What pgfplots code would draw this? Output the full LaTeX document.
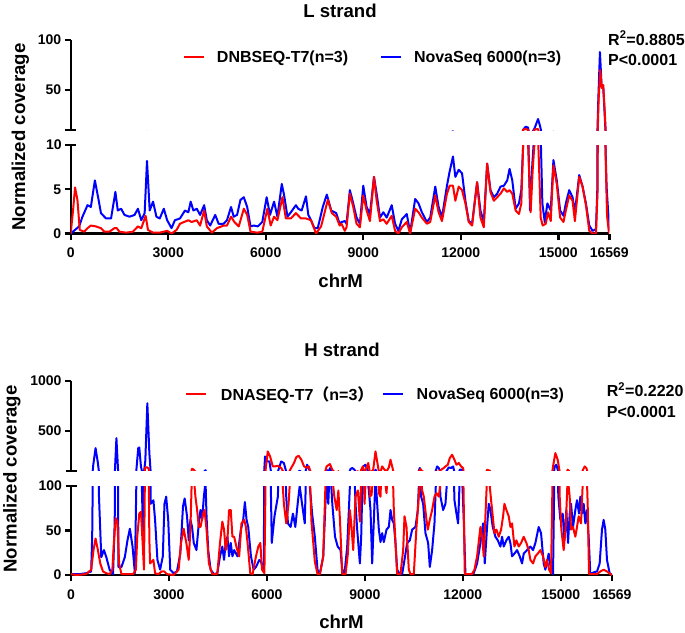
\documentclass[border=0pt]{standalone}
\usepackage{pgfplots}
\pgfplotsset{compat=1.18}
\usepackage{pgfplotstable}
\usepackage{fontspec}
\setmainfont{Liberation Sans}
\newfontfamily\cjk{Noto Sans CJK SC}

\pgfplotstableread{
x y
0 0
259 0.8
362 1.9
517 3.2
620 3.0
744 6.0
858 3.8
931 2.3
1086 1.7
1241 1.7
1375 4.7
1448 2.6
1551 2.8
1654 2.1
1810 1.9
1965 2.1
2068 2.8
2171 1.5
2275 2.3
2347 8.2
2430 2.6
2533 3.6
2637 1.9
2740 1.7
2864 2.8
2968 1.5
3102 0.6
3205 1.5
3361 1.7
3516 2.6
3619 2.4
3691 3.6
3774 2.6
3878 2.8
3981 2.1
4105 3.2
4188 1.5
4291 0.9
4446 2.1
4550 1.1
4705 1.1
4808 1.5
4932 3.0
5015 1.9
5118 2.1
5222 3.8
5325 4.1
5429 3.0
5532 0.8
5635 0.9
5759 0.8
5894 1.3
6028 4.1
6132 2.1
6256 3.6
6359 1.9
6494 5.6
6566 4.3
6669 1.9
6773 2.4
6928 3.2
7000 2.8
7104 2.6
7238 4.2
7310 2.1
7393 1.5
7497 0.6
7600 0.6
7755 3.0
7879 4.4
8014 2.6
8169 2.3
8272 1.1
8330 1.3
8433 1.4
8485 1.1
8588 4.9
8691 3.4
8794 1.8
8897 1.1
9000 5.4
9103 3.0
9206 2.2
9330 6.4
9412 4.5
9515 1.8
9618 2.4
9721 1.8
9876 3.2
9979 1.1
10082 0.3
10185 1.6
10339 2.2
10442 0.1
10597 3.9
10700 3.4
10803 2.4
10957 1.3
11060 1.8
11215 5.3
11318 3.0
11421 1.8
11575 5.4
11657 7.0
11760 8.7
11833 6.4
11936 7.2
12039 6.8
12142 3.7
12245 1.4
12348 1.1
12502 5.8
12605 2.6
12708 1.3
12811 7.9
12914 4.9
13017 4.1
13120 4.5
13223 5.3
13326 5.4
13429 6.0
13501 7.3
13584 6.0
13687 2.8
13790 3.4
13862 4.9
13923 10.5
13996 13.3
14068 12.5
14130 2.6
14202 7.9
14274 12
14377 21
14438 14
14510 3.4
14583 1.3
14665 3.4
14768 2.6
14850 8.3
14953 6.0
15056 2.6
15159 2.0
15232 3.4
15335 4.9
15438 4.1
15510 2.4
15644 6.6
15747 5.3
15850 3.4
15953 0.9
16056 0.3
16159 0.5
16200 5
16230 40
16281 88
16330 55
16383 52
16420 30
16450 10
16487 5.2
16569 0.3
}\Lblue

\pgfplotstableread{
x y
0 0
72 2.6
134 5.2
207 3.8
279 0.4
414 0.2
517 0.6
620 0.9
776 0.8
931 0.6
1034 0.2
1189 0.2
1344 0.6
1417 0.6
1499 0.2
1706 0.1
1913 0.2
2068 0.8
2171 0.6
2306 2.0
2378 0.4
2533 0.1
2740 0.1
2968 0.3
3102 0
3257 0.4
3361 1.1
3485 1.3
3619 1.5
3722 1.3
3878 1.5
3981 0.9
4105 2.6
4188 0.8
4343 0.1
4498 0.6
4705 0.9
4808 0.9
4932 1.9
5036 1.3
5170 0.8
5325 2.8
5429 2.1
5532 0.2
5739 0.1
5894 0.2
6049 2.8
6152 0.9
6256 1.9
6359 1.5
6514 4.1
6618 1.7
6773 1.7
6928 2.3
7083 1.7
7238 1.7
7393 1.5
7548 0
7703 0.8
7910 3.8
8034 2.3
8169 1.9
8272 0.9
8330 1.1
8433 0.3
8485 0.7
8588 4.5
8691 3.0
8794 1.1
8897 0.7
9000 4.3
9103 2.6
9206 1.4
9330 6.4
9412 3.7
9515 1.4
9618 1.6
9721 1.1
9876 2.0
9979 0.3
10082 0
10185 0.7
10339 1.3
10442 0
10597 2.8
10700 2.4
10803 1.8
10957 1.1
11060 1.3
11215 4.3
11318 2.4
11421 1.4
11575 4.5
11657 5.4
11760 5.4
11833 3.7
11936 5.3
12039 4.9
12142 3.4
12245 1.3
12348 0.9
12502 5.8
12605 1.8
12708 0.7
12811 7.9
12914 4.7
13017 3.7
13120 4.1
13223 4.5
13326 5.1
13429 4.7
13501 4.9
13584 4.5
13687 2.6
13790 2.2
13862 3.4
13923 10.5
13996 11
14068 10.3
14150 2.4
14212 7.2
14274 10.5
14377 11
14459 1.8
14520 0.9
14613 1.1
14686 2.4
14768 1.4
14850 7.7
14953 5.6
15056 1.8
15159 1.3
15232 2.6
15335 4.3
15438 3.7
15510 1.4
15644 6.4
15747 5.3
15850 3.2
15953 0.3
16056 0
16159 0
16210 5
16240 40
16290 70
16340 52
16383 55
16425 30
16460 8
16500 2
16560 0
}\Lred

\pgfplotstableread{
x y
0 1
258 1
464 2
618 4
649 43
680 153
752 327
824 177
855 90
927 20
1009 28
1082 20
1185 5.6
1288 1
1339 60
1391 427
1442 100
1452 9
1545 9
1648 20
1730 39
1803 52
1885 32
1957 2
2000 100
2060 327
2091 333
2142 143
2215 30
2276 200
2338 777
2400 277
2441 80
2524 84
2575 62
2647 17
2730 6
2812 21
2863 80
2915 88
2977 62
3039 6
3142 2
3245 4
3348 24
3430 77
3481 86
3554 66
3605 39
3657 62
3708 54
3760 36
3842 28
3914 58
3966 73
4017 62
4069 88
4120 105
4151 66
4202 28
4275 6
4378 1
4481 2
4563 21
4635 32
4687 17
4738 36
4790 43
4841 21
4893 36
4944 21
4996 28
5099 21
5202 51
5274 62
5325 82
5377 62
5428 54
5511 21
5593 6
5665 9
5768 17
5820 15
5902 4
5943 243
5974 193
6077 193
6149 36
6232 66
6335 88
6386 143
6438 193
6520 177
6592 88
6644 58
6726 54
6798 69
6870 54
6953 84
7004 100
7076 80
7159 58
7231 160
7313 100
7385 69
7468 43
7550 6
7622 1
7725 21
7828 110
7880 80
7931 127
8003 80
8086 43
8168 32
8255 28
8306 6
8378 2
8459 32
8510 73
8561 117
8612 127
8684 110
8714 80
8765 51
8847 13
8888 43
8949 143
9020 160
9071 110
9122 95
9173 73
9224 13
9326 110
9377 80
9428 51
9479 37
9530 47
9581 37
9663 51
9734 54
9785 73
9836 62
9887 58
9938 36
9989 6
10071 1
10142 1
10214 17
10295 36
10377 39
10448 51
10550 54
10622 73
10683 127
10724 88
10785 80
10856 47
10938 36
10989 9
11060 28
11132 58
11213 143
11264 127
11315 88
11397 73
11468 80
11570 133
11642 127
11703 143
11744 84
11805 69
11856 58
11907 110
11978 110
12029 62
12080 1
12233 1
12335 2
12437 13
12539 36
12621 58
12672 13
12743 54
12794 80
12845 73
12917 54
12998 43
13070 39
13151 32
13202 43
13253 32
13335 39
13406 43
13457 36
13508 21
13580 24
13661 28
13743 21
13814 13
13865 24
13967 28
14069 32
14151 28
14222 36
14324 54
14396 47
14477 13
14528 6
14630 24
14702 6
14763 1
14814 143
14865 160
14926 88
14987 62
15059 69
15110 39
15171 73
15222 36
15273 69
15314 80
15375 54
15446 73
15497 84
15559 69
15599 88
15650 69
15701 80
15752 58
15803 73
15854 43
15905 1
16007 3
16109 4
16191 13
16262 51
16313 62
16364 51
16415 17
16497 2
16568 0
}\Hblue

\pgfplotstableread{
x y
0 1
155 0
464 1
618 6
690 28
752 41
824 28
896 13
979 4
1082 2
1185 1
1267 6
1318 39
1370 64
1421 60
1473 13
1545 1
1700 1
1906 1
1988 6
2029 43
2091 69
2142 71
2194 36
2235 6
2266 120
2276 133
2338 133
2379 120
2400 40
2421 13
2472 15
2524 17
2575 2
2678 1
2781 4
2853 4
2936 1
3142 0
3296 6
3368 36
3451 52
3533 36
3605 17
3657 51
3708 120
3760 110
3811 88
3863 73
3914 54
3966 54
4048 69
4089 73
4151 51
4223 13
4326 1
4481 1
4563 36
4635 60
4687 51
4738 28
4790 39
4841 73
4893 73
4944 43
4996 43
5078 30
5150 21
5222 58
5305 62
5356 54
5408 36
5490 2
5562 1
5665 21
5737 32
5799 36
5850 6
5923 2
5974 150
6026 293
6098 243
6180 143
6252 143
6335 150
6438 127
6520 80
6592 58
6664 80
6747 130
6829 177
6901 237
6973 250
7056 210
7138 143
7210 130
7282 143
7365 60
7468 15
7550 1
7622 1
7725 21
7828 143
7931 167
8003 110
8065 88
8137 73
8189 95
8240 60
8306 1
8408 1
8480 24
8541 73
8582 58
8643 28
8714 88
8786 95
8847 60
8888 110
8939 143
8990 80
9051 127
9102 177
9153 88
9204 90
9255 110
9326 293
9377 193
9428 92
9479 88
9530 143
9602 110
9663 92
9734 133
9785 210
9836 143
9887 73
9938 36
9989 1
10091 1
10173 28
10214 66
10275 54
10346 6
10397 1
10499 1
10581 54
10652 88
10703 117
10754 95
10805 88
10887 62
10928 51
10989 62
11060 73
11132 88
11193 92
11264 88
11336 110
11417 127
11468 143
11540 160
11601 227
11672 260
11744 210
11805 160
11876 177
11948 143
12009 127
12060 1
12131 1
12284 1
12356 6
12437 21
12539 54
12590 43
12641 21
12692 66
12743 110
12825 100
12866 84
12917 66
12968 47
13029 51
13100 43
13172 51
13233 66
13274 80
13335 73
13406 66
13457 54
13508 58
13580 32
13641 39
13712 32
13784 36
13865 43
13947 36
14018 28
14069 17
14151 13
14222 21
14294 24
14375 28
14457 21
14528 9
14579 17
14641 6
14702 2
14763 143
14834 277
14906 210
14967 88
15018 51
15089 28
15151 54
15212 110
15273 88
15314 51
15375 54
15446 43
15497 54
15548 66
15620 58
15681 110
15732 143
15783 127
15824 80
15865 1
15956 1
16109 1
16211 4
16313 6
16415 4
16517 1
16569 0
}\Hred

\pgfplotsset{
  base/.style={
    scale only axis, xmin=0, xmax=16569,
    scaled x ticks=false, scaled y ticks=false,
    axis line style={line width=2.4pt,-},
    every outer x axis line/.append style={-},
    every outer y axis line/.append style={-},
    every tick/.style={line width=2.4pt,black},
    major tick length=6pt,
    tick align=outside,
    ticklabel style={font=\bfseries\fontsize{14}{16}\selectfont},
    xticklabel style={yshift=-5pt},
    /pgf/number format/assume math mode=true,
    legend image code/.code={\draw[#1,line width=2pt](0pt,0pt)--(20pt,0pt);},
    legend cell align=left,
    clip=true,
  },
  lowx/.style={
    axis x line=bottom, axis y line=left,
    xtick={0,3000,6000,9000,12000,15000,16569},
    xticklabels={0,3000,6000,9000,12000,15000,16569},
  },
  upx/.style={
    axis x line=none, axis y line=left, xtick=\empty,
  },
  leg/.style={legend style={draw=none, fill=none, inner sep=0pt, outer sep=0pt,
    anchor=west, at={#1}, font=\bfseries\fontsize{16}{18}\selectfont,
    nodes={inner sep=0pt}}},
  pr/.style={red, line width=2pt, line join=round},
  pb/.style={blue, line width=2pt, line join=round},
}

\begin{document}
\begin{tikzpicture}[x=1pt,y=1pt]
\useasboundingbox (0,0) rectangle (685,-632);

% ---------- L strand ----------
\begin{axis}[lowx, base, at={(70.7pt,-233.5pt)}, anchor=south west,
  width=538.6pt, height=88.5pt, ymin=0, ymax=10,
  ytick={0,5}, yticklabels={0,5},
  extra y ticks={10}, extra y tick labels={10},
  extra y tick style={tick align=center, major tick length=11pt},
  leg={(0.5743,1.989)}, legend style={column sep=12pt}]
\addplot[pb] table {\Lblue};
\addlegendentry{NovaSeq 6000(n=3)}
\addplot[pr, forget plot] table {\Lred};
\end{axis}
\begin{axis}[upx, base, at={(70.7pt,-130pt)}, anchor=south west,
  width=538.6pt, height=90pt, ymin=10, ymax=100,
  ytick={50,100}, yticklabels={50,100},
  extra y ticks={10}, extra y tick labels={},
  extra y tick style={tick align=center, major tick length=11pt},
  leg={(0.2085,0.806)}, legend style={column sep=12pt}]
\addplot[pb, forget plot] table {\Lblue};
\addplot[pr] table {\Lred};
\addlegendentry{DNBSEQ-T7(n=3)}
\end{axis}

% ---------- H strand ----------
\begin{axis}[lowx, base, at={(71pt,-575pt)}, anchor=south west,
  width=541pt, height=89pt, ymin=0, ymax=100,
  ytick={0,50}, yticklabels={0,50},
  extra y ticks={100}, extra y tick labels={100},
  extra y tick style={tick align=center, major tick length=11pt},
  leg={(0.5743,2.034)}, legend style={column sep=13pt}]
\addplot[pb] table {\Hblue};
\addlegendentry{NovaSeq 6000(n=3)}
\addplot[pr, forget plot] table {\Hred};
\end{axis}
\begin{axis}[upx, base, at={(71pt,-470.7pt)}, anchor=south west,
  width=541pt, height=89.7pt, ymin=100, ymax=1000,
  ytick={500,1000}, yticklabels={500,1000},
  extra y ticks={100}, extra y tick labels={},
  extra y tick style={tick align=center, major tick length=11pt},
  leg={(0.2107,0.855)}, legend style={column sep=14pt}]
\addplot[pb, forget plot] table {\Hblue};
\addplot[pr] table {\Hred};
\addlegendentry{DNASEQ-T7{\cjk （}n=3{\cjk ）}}
\end{axis}

% ---------- texts ----------
\tikzset{big/.style={font=\bfseries\fontsize{18.6}{20}\selectfont, inner sep=0pt},
         stat/.style={font=\bfseries\fontsize{16}{18}\selectfont, inner sep=0pt, anchor=base west}}
\node[big, anchor=base] at (340,-17.5) {L strand};
\node[big, anchor=base] at (340.7,-287) {chrM};
\node[big, anchor=base, rotate=90] at (25,-137) {Normalized coverage};
\node[stat] at (608,-45) {R\textsuperscript{2}=0.8805};
\node[stat] at (608,-65) {P<0.0001};

\node[big, anchor=base] at (342,-356.7) {H strand};
\node[big, anchor=base] at (341.5,-628.3) {chrM};
\node[big, anchor=base, rotate=90] at (16.7,-479) {Normalized coverage};
\node[stat] at (606.7,-396.7) {R\textsuperscript{2}=0.2220};
\node[stat] at (606.7,-417.3) {P<0.0001};
\end{tikzpicture}
\end{document}
